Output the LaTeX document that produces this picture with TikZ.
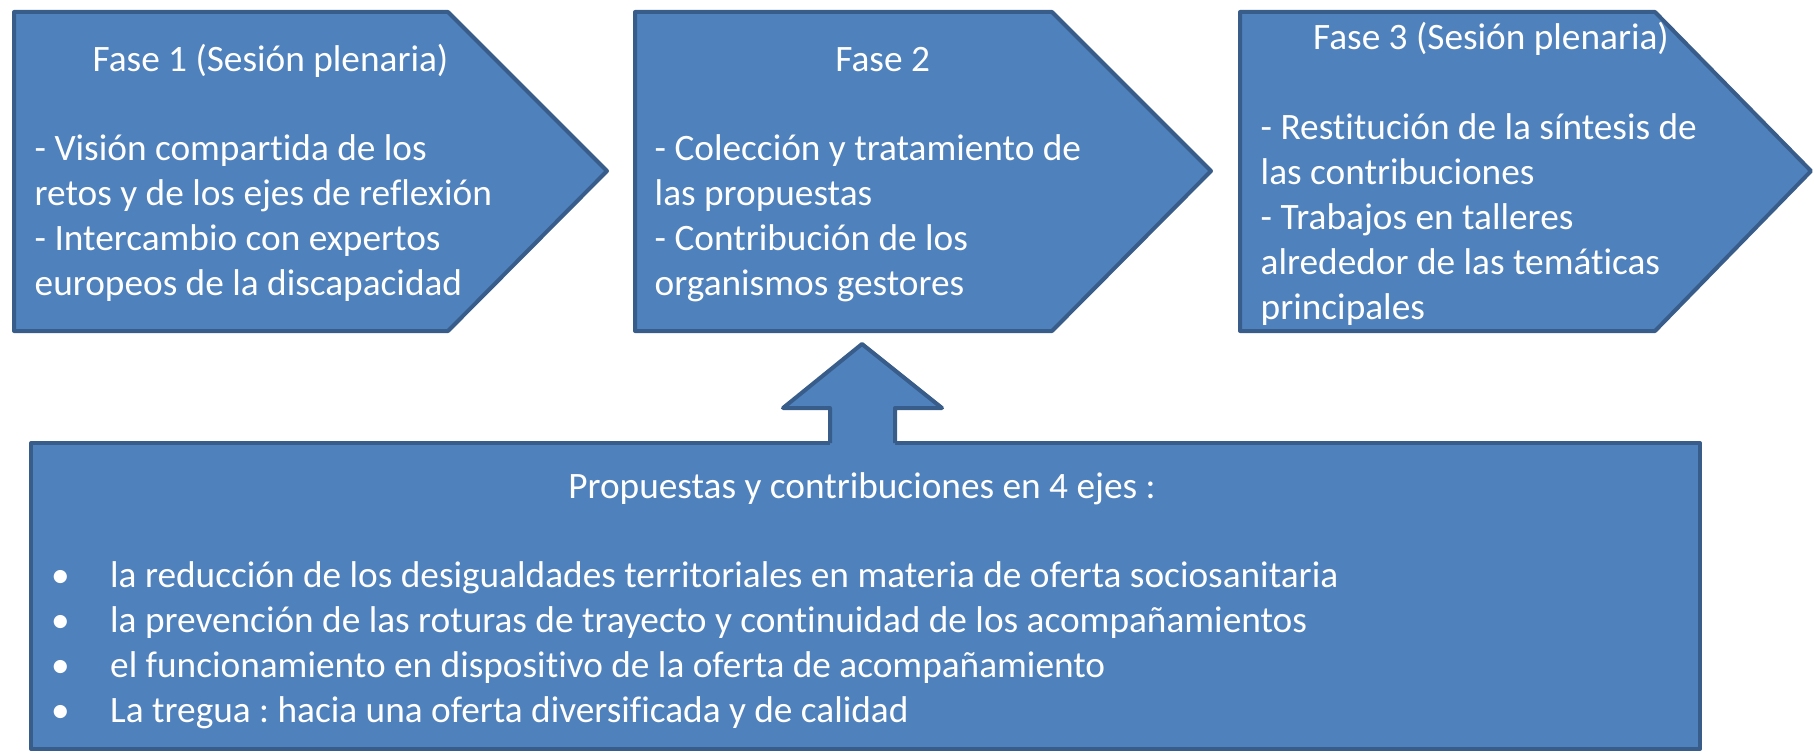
\documentclass[tikz,border=0pt]{standalone}
\usepackage{fontspec}
\setmainfont{Carlito}[Ligatures=NoCommon]
\frenchspacing
\definecolor{boxfill}{HTML}{4F81BD}
\definecolor{boxline}{HTML}{385D8A}
\begin{document}
\begin{tikzpicture}[x=1pt,y=-1pt,
  shapebox/.style={fill=boxfill,draw=boxline,line width=4pt,line join=round},
  txt/.style={inner sep=0pt,text=white,font=\fontsize{37.3}{45}\selectfont},
  lt/.style={txt,anchor=base west},
  ct/.style={txt,anchor=base}]
\useasboundingbox (0,0) rectangle (1814,752);
% phase pentagons
\draw[shapebox] (14,12) -- (448,12) -- (607,171) -- (448,331) -- (14,331) -- cycle;
\draw[shapebox] (635,12) -- (1052,12) -- (1211,171) -- (1052,331) -- (635,331) -- cycle;
\draw[shapebox] (1240,12) -- (1655,12) -- (1811,171) -- (1655,331) -- (1240,331) -- cycle;
% bottom box
\draw[shapebox] (31,443) rectangle (1700,749);
% up arrow
\fill[boxfill] (830,446) -- (830,408) -- (783,408) -- (862,344) -- (942,408) -- (895,408) -- (895,446) -- cycle;
\draw[boxline,line width=4pt,line join=round] (830,443) -- (830,408) -- (783,408) -- (862,344) -- (942,408) -- (895,408) -- (895,443);
% texts phase 1
\node[ct] (f1t) at (270.5,71) {Fase 1 (Sesión plenaria)};
\node[lt] (f1a) at (34.5,160) {- Visión compartida de los};
\node[lt] (f1b) at (34.5,205) {retos y de los ejes de reflexión};
\node[lt] (f1c) at (34.5,250) {- Intercambio con expertos};
\node[lt] (f1d) at (34.5,295) {europeos de la discapacidad};
% phase 2
\node[ct] (f2t) at (882.7,71) {Fase 2};
\node[lt] (f2a) at (654.5,160) {- Colección y tratamiento de};
\node[lt] (f2b) at (654.5,205) {las propuestas};
\node[lt] (f2c) at (654.5,250) {- Contribución de los};
\node[lt] (f2d) at (654.5,295) {organismos gestores};
% phase 3
\node[ct] (f3t) at (1491,50) {Fase 3 (Sesión plenaria)};
\node[lt] (f3a) at (1260.5,139) {- Restitución de la síntesis de};
\node[lt] (f3b) at (1260.5,184) {las contribuciones};
\node[lt] (f3c) at (1260.5,229) {- Trabajos en talleres};
\node[lt] (f3d) at (1260.5,274) {alrededor de las temáticas};
\node[lt] (f3e) at (1260.5,319) {principales};
% bottom
\node[ct] (pt) at (862,498) {Propuestas y contribuciones en 4 ejes :};
\foreach \i/\y in {1/587,2/632,3/677,4/722} {\node[lt] (b\i) at (51,\y) {•};}
\node[lt] (p1) at (110,587) {la reducción de los desigualdades territoriales en materia de oferta sociosanitaria};
\node[lt] (p2) at (110,632) {la prevención de las roturas de trayecto y continuidad de los acompañamientos};
\node[lt] (p3) at (110,677) {el funcionamiento en dispositivo de la oferta de acompañamiento};
\node[lt] (p4) at (110,722) {La tregua : hacia una oferta diversificada y de calidad};
\end{tikzpicture}
\end{document}
